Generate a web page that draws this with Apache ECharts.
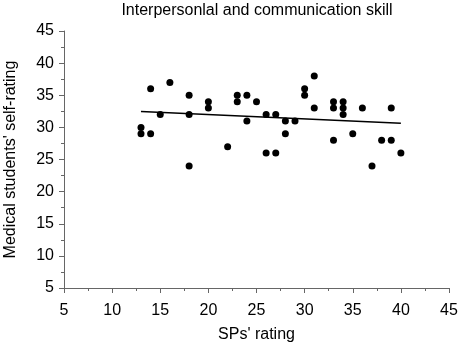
<!DOCTYPE html>
<html>
<head>
<meta charset="utf-8">
<script src="https://cdn.jsdelivr.net/npm/echarts@6/dist/echarts.min.js"></script>
<style>
html,body{margin:0;padding:0;background:#fff;}
#chart{width:460px;height:344px;}
</style>
</head>
<body>
<div id="chart"></div>
<script>
var titleText = "Interpersonlal and communication skill";
var xAxisName = "SPs' rating";
var yAxisName = "Medical students' self-rating";
var spRating = [13,13,14,14,15,16,18,18,18,20,20,22,23,23,24,24,25,26,26,27,27,28,28,29,30,30,31,31,33,33,33,34,34,34,35,36,37,38,39,39,40];
var selfRating = [30,29,29,36,32,37,35,32,24,34,33,27,35,34,35,31,34,32,26,32,26,31,29,31,36,35,38,33,34,33,28,34,33,32,29,33,24,28,33,28,26];
var fitX = [13,40];
var fitY = [32.46,30.66];
var axisMin = 5, axisMax = 45, axisStep = 5;

var points = spRating.map(function(x,i){return [x, selfRating[i]];});
var fitLine = fitX.map(function(x,i){return [x, fitY[i]];});

var chart = echarts.init(document.getElementById('chart'), null, {renderer:'canvas'});
var font = 'Arial, "Liberation Sans", Helvetica, sans-serif';
function axisCommon(){
  return {
    type:'value', min:axisMin, max:axisMax, interval:axisStep,
    axisLine:{show:true, lineStyle:{color:'#666', width:1}},
    axisTick:{show:true, inside:false, length:5, lineStyle:{color:'#666'}},
    minorTick:{show:true, splitNumber:2, length:3, lineStyle:{color:'#666'}},
    splitLine:{show:false},
    axisLabel:{color:'#000', fontSize:16, fontFamily:font},
    nameTextStyle:{color:'#000', fontSize:16, fontFamily:font},
    nameLocation:'middle'
  };
}
var xa = axisCommon();
xa.name = xAxisName; xa.nameGap = 39; xa.axisLabel.margin = 15;
var ya = axisCommon();
ya.name = yAxisName; ya.nameGap = 45; ya.axisLabel.margin = 10;

chart.setOption({
  animation:false,
  backgroundColor:'#fff',
  title:{text:titleText, left:252, textAlign:'center', top:-2,
    textStyle:{color:'#000', fontSize:16, fontWeight:'normal', fontFamily:font}},
  grid:{left:64, right:11, top:31, bottom:56, containLabel:false, outerBoundsMode:'none'},
  xAxis:xa,
  yAxis:ya,
  series:[
    {type:'scatter', data:points, symbol:'circle', symbolSize:7,
     itemStyle:{color:'#000', opacity:1}},
    {type:'line', data:fitLine, symbol:'none', lineStyle:{color:'#000', width:1.5}}
  ]
});
</script>
</body>
</html>
